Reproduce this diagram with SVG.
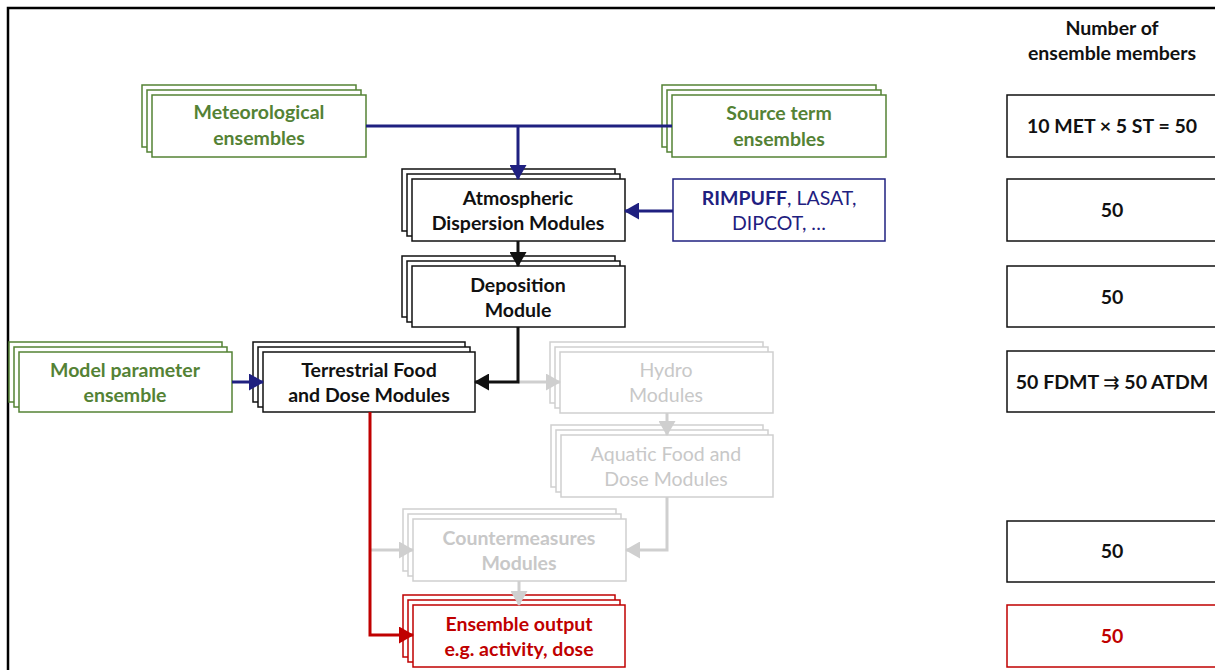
<svg xmlns="http://www.w3.org/2000/svg" width="1215" height="670" viewBox="0 0 1215 670">
<style>
  text { font-family: Lato, "Open Sans", "Liberation Sans", "DejaVu Sans", sans-serif; font-size: 19.5px; text-anchor: middle; }
  .b { font-weight: bold; }
  .box { fill: #fff; stroke-width: 1.5; }
  .k { stroke: #111; }
  .g { stroke: #548235; }
  .gy { stroke: #cfcfcf; }
  .r { stroke: #c00000; }
  .n { stroke: #1f2080; }
  .tk { fill: #111; }
  .tg { fill: #548235; }
  .tgy { fill: #c8c8c8; }
  .tr { fill: #c00000; }
  .tn { fill: #1f2080; }
  .ln { fill: none; stroke-width: 3; }
</style>
<defs>
  <marker id="an" markerWidth="15" markerHeight="17" refX="14" refY="8.5" orient="auto" markerUnits="userSpaceOnUse"><path d="M0,0 L15,8.5 L0,17 Z" fill="#1f2080"/></marker>
  <marker id="ak" markerWidth="15" markerHeight="17" refX="14" refY="8.5" orient="auto" markerUnits="userSpaceOnUse"><path d="M0,0 L15,8.5 L0,17 Z" fill="#111"/></marker>
  <marker id="ag" markerWidth="15" markerHeight="17" refX="14" refY="8.5" orient="auto" markerUnits="userSpaceOnUse"><path d="M0,0 L15,8.5 L0,17 Z" fill="#cfcfcf"/></marker>
  <marker id="ar" markerWidth="15" markerHeight="17" refX="14" refY="8.5" orient="auto" markerUnits="userSpaceOnUse"><path d="M0,0 L15,8.5 L0,17 Z" fill="#c00000"/></marker>
</defs>
<rect width="1215" height="670" fill="#fff"/>
<path d="M8,680 L8,8 L1225,8" fill="none" stroke="#000" stroke-width="2.5"/>

<g id="met">
  <rect class="box g" x="142" y="85" width="214" height="62"/>
  <rect class="box g" x="147" y="90" width="214" height="62"/>
  <rect class="box g" x="152" y="95" width="214" height="62"/>
  <text class="b tg" x="259" y="119">Meteorological</text>
  <text class="b tg" x="259" y="145">ensembles</text>
</g>
<g id="source">
  <rect class="box g" x="662" y="85" width="214" height="62"/>
  <rect class="box g" x="667" y="90" width="214" height="62"/>
  <rect class="box g" x="672" y="95" width="214" height="62"/>
  <text class="b tg" x="779" y="120">Source term</text>
  <text class="b tg" x="779" y="146">ensembles</text>
</g>
<g id="atm">
  <rect class="box k" x="402" y="169" width="213" height="62"/>
  <rect class="box k" x="407" y="174" width="213" height="62"/>
  <rect class="box k" x="412" y="179" width="213" height="62"/>
  <text class="b tk" x="518" y="205">Atmospheric</text>
  <text class="b tk" x="518" y="230">Dispersion Modules</text>
</g>
<g id="models">
  <rect class="box n" x="673" y="179" width="212" height="62"/>
  <text class="tn" x="779" y="205"><tspan class="b">RIMPUFF</tspan>, LASAT,</text>
  <text class="tn" x="779" y="230">DIPCOT, …</text>
</g>
<g id="dep">
  <rect class="box k" x="402" y="256" width="213" height="61"/>
  <rect class="box k" x="407" y="261" width="213" height="61"/>
  <rect class="box k" x="412" y="266" width="213" height="61"/>
  <text class="b tk" x="518" y="292">Deposition</text>
  <text class="b tk" x="518" y="317">Module</text>
</g>
<g id="param">
  <rect class="box g" x="9" y="342" width="213" height="60"/>
  <rect class="box g" x="14" y="347" width="213" height="60"/>
  <rect class="box g" x="19" y="352" width="213" height="60"/>
  <text class="b tg" x="125" y="377">Model parameter</text>
  <text class="b tg" x="125" y="402">ensemble</text>
</g>
<g id="terr">
  <rect class="box k" x="253" y="342" width="212" height="60"/>
  <rect class="box k" x="258" y="347" width="212" height="60"/>
  <rect class="box k" x="263" y="352" width="212" height="60"/>
  <text class="b tk" x="369" y="377">Terrestrial Food</text>
  <text class="b tk" x="369" y="402">and Dose Modules</text>
</g>
<g id="hydro">
  <rect class="box gy" x="550" y="342" width="213" height="61"/>
  <rect class="box gy" x="555" y="347" width="213" height="61"/>
  <rect class="box gy" x="560" y="352" width="213" height="61"/>
  <text class="tgy" x="666" y="377">Hydro</text>
  <text class="tgy" x="666" y="402">Modules</text>
</g>
<g id="aquatic">
  <rect class="box gy" x="551" y="425" width="212" height="62"/>
  <rect class="box gy" x="556" y="430" width="212" height="62"/>
  <rect class="box gy" x="561" y="435" width="212" height="62"/>
  <text class="tgy" x="666" y="461">Aquatic Food and</text>
  <text class="tgy" x="666" y="486">Dose Modules</text>
</g>
<g id="counter">
  <rect class="box gy" x="403" y="509" width="213" height="62"/>
  <rect class="box gy" x="408" y="514" width="213" height="62"/>
  <rect class="box gy" x="413" y="519" width="213" height="62"/>
  <text class="b tgy" x="519" y="545">Countermeasures</text>
  <text class="b tgy" x="519" y="570">Modules</text>
</g>
<g id="output">
  <rect class="box r" x="403" y="595" width="212" height="62"/>
  <rect class="box r" x="408" y="600" width="212" height="62"/>
  <rect class="box r" x="413" y="605" width="212" height="62"/>
  <text class="b tr" x="519" y="631">Ensemble output</text>
  <text class="b tr" x="519" y="656">e.g. activity, dose</text>
</g>

<g id="header">
  <text class="b tk" x="1112" y="35">Number of</text>
  <text class="b tk" x="1112" y="60">ensemble members</text>
</g>
<g id="n1">
  <rect class="box k" x="1007" y="95" width="215" height="62"/>
  <text class="b tk" x="1112" y="133">10 MET × 5 ST = 50</text>
</g>
<g id="n2">
  <rect class="box k" x="1007" y="179" width="215" height="62"/>
  <text class="b tk" x="1112" y="217">50</text>
</g>
<g id="n3">
  <rect class="box k" x="1007" y="266" width="215" height="61"/>
  <text class="b tk" x="1112" y="304">50</text>
</g>
<g id="n4">
  <rect class="box k" x="1007" y="351" width="215" height="61"/>
  <text class="b tk" x="1112" y="389">50 FDMT <tspan font-weight="normal" font-family="DejaVu Sans, sans-serif">⇉</tspan> 50 ATDM</text>
</g>
<g id="n5">
  <rect class="box k" x="1007" y="521" width="215" height="61"/>
  <text class="b tk" x="1112" y="558">50</text>
</g>
<g id="n6">
  <rect class="box r" x="1007" y="605" width="215" height="62"/>
  <text class="b tr" x="1112" y="643">50</text>
</g>

<g id="connectors">
  <path class="ln n" d="M366,126 L672,126"/>
  <path class="ln n" d="M518,126 L518,179" marker-end="url(#an)"/>
  <path class="ln n" d="M673,211 L625,211" marker-end="url(#an)"/>
  <path class="ln n" d="M232,382 L263,382" marker-end="url(#an)"/>
  <path class="ln" stroke="#111" d="M518,241 L518,266" marker-end="url(#ak)"/>
  <path class="ln" stroke="#cfcfcf" d="M518,382 L560,382" marker-end="url(#ag)"/>
  <path class="ln" stroke="#111" d="M518,327 L518,382 L475,382" marker-end="url(#ak)"/>
  <path class="ln" stroke="#cfcfcf" d="M667,413 L667,435" marker-end="url(#ag)"/>
  <path class="ln" stroke="#cfcfcf" d="M667,497 L667,550 L626,550" marker-end="url(#ag)"/>
  <path class="ln" stroke="#cfcfcf" d="M370,550 L413,550" marker-end="url(#ag)"/>
  <path class="ln" stroke="#cfcfcf" d="M519,581 L519,605" marker-end="url(#ag)"/>
  <path class="ln" stroke="#c00000" d="M370,412 L370,635 L413,635" marker-end="url(#ar)"/>
</g>
</svg>
